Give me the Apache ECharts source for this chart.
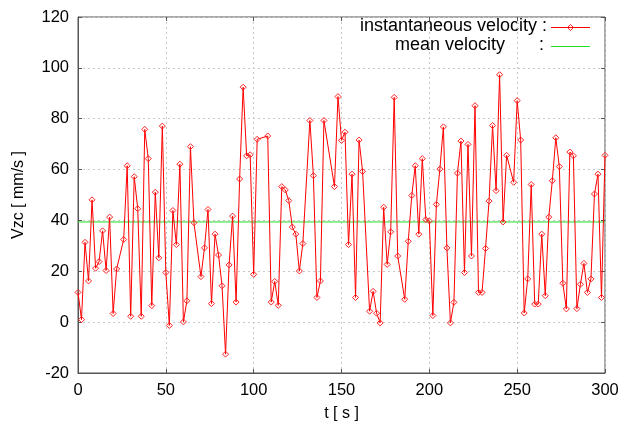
<!DOCTYPE html>
<html>
<head>
<meta charset="utf-8">
<script src="https://cdn.jsdelivr.net/npm/echarts@6/dist/echarts.min.js"></script>
<style>
html,body{margin:0;padding:0;background:#fff;}
#c{width:624px;height:427px;}
</style>
</head>
<body>
<div id="c"></div>
<script>
const times = [0,2,4,6,8,10,12,14,16,18,20,22,26,28,30,32,34,36,38,40,
  42,44,46,48,50,52,54,56,58,60,62,64,66,70,72,74,76,78,80,82,
  84,86,88,90,92,94,96,98,100,102,108,110,112,114,116,118,120,122,124,126,
  128,132,134,136,138,140,146,148,150,152,154,156,158,160,162,166,168,170,172,174,
  176,178,180,182,186,188,190,192,194,196,198,200,202,204,206,208,210,212,214,216,
  218,220,222,224,226,228,230,232,234,236,238,240,242,244,248,250,252,254,256,258,
  260,262,264,266,268,270,272,274,276,278,280,282,284,286,288,290,292,294,296,298,300];
const velocities = [11.7,1.0,31.4,16.2,48.1,21.2,23.8,35.9,20.3,41.3,3.4,20.9,32.5,61.5,2.3,57.2,44.6,2.3,75.8,64.3,
  6.5,51.1,25.3,77.1,19.5,-1.3,43.9,30.5,62.1,0.1,8.4,69.0,39.1,17.9,29.2,44.3,7.3,34.6,26.4,14.3,
  -12.6,22.5,41.7,7.9,56.3,92.4,65.4,65.8,18.8,71.9,73.2,7.9,16.0,6.6,53.3,52.0,47.8,37.4,34.6,20.1,
  30.9,79.3,57.6,9.7,16.2,79.3,53.3,88.7,71.5,74.7,30.5,58.2,9.7,71.6,59.3,4.3,12.1,3.5,-0.3,45.2,
  22.7,35.5,88.4,26.0,9.0,31.8,49.8,61.5,34.6,64.3,40.3,39.8,2.6,46.3,60.2,76.8,29.2,-0.3,7.8,58.6,
  71.2,19.5,69.9,26.0,85.1,11.7,11.7,29.0,47.6,77.3,51.7,97.3,39.4,65.6,55.0,87.1,71.6,3.6,17.0,54.1,
  7.1,7.1,34.6,10.4,41.3,55.6,72.5,61.2,15.3,5.2,66.9,65.4,5.3,14.9,23.1,11.7,17.0,50.4,58.2,9.7,65.6];
const meanVelocity = 39.4;
const meanRange = [0, 300];
const xRange = [0, 300, 50];
const yRange = [-20, 120, 20];
const seriesNames = ['instantaneous velocity', 'mean velocity'];
const xTitle = 't [ s ]';
const yTitle = 'Vzc [ mm/s ]';

const FONT = 'Liberation Sans';
const chart = echarts.init(document.getElementById('c'), null, {renderer: 'canvas'});

const gridLine = {show: true, lineStyle: {color: '#c8c8c8', type: [2, 3], width: 1}};
const tickIn = {show: true, inside: true, length: 4, lineStyle: {color: '#555'}};

chart.setOption({
  animation: false,
  backgroundColor: '#fff',
  grid: {left: 78, right: 19, top: 17, bottom: 53, show: true, borderColor: '#555', borderWidth: 1},
  xAxis: [{
    type: 'value', min: xRange[0], max: xRange[1], interval: xRange[2],
    axisLine: {show: true, onZero: false, lineStyle: {color: '#555'}},
    axisTick: tickIn,
    splitLine: gridLine,
    axisLabel: {color: '#000', fontFamily: FONT, fontSize: 16.5, margin: 9},
    name: xTitle, nameLocation: 'middle', nameGap: 33,
    nameTextStyle: {color: '#000', fontFamily: FONT, fontSize: 16}
  }, {
    type: 'value', position: 'top', min: xRange[0], max: xRange[1], interval: xRange[2],
    axisLine: {show: false, onZero: false}, axisTick: tickIn, axisLabel: {show: false}, splitLine: {show: false}
  }],
  yAxis: [{
    type: 'value', min: yRange[0], max: yRange[1], interval: yRange[2],
    axisLine: {show: true, onZero: false, lineStyle: {color: '#555'}},
    axisTick: tickIn,
    splitLine: gridLine,
    axisLabel: {color: '#000', fontFamily: FONT, fontSize: 16.5, margin: 9},
    name: yTitle, nameLocation: 'middle', nameGap: 51, nameRotate: 90,
    nameTextStyle: {color: '#000', fontFamily: FONT, fontSize: 16}
  }, {
    type: 'value', position: 'right', min: yRange[0], max: yRange[1], interval: yRange[2],
    axisLine: {show: false, onZero: false}, axisTick: tickIn, axisLabel: {show: false}, splitLine: {show: false}
  }],
  series: [{
    name: seriesNames[1],
    type: 'line',
    data: meanRange.map(t => [t, meanVelocity]),
    symbol: 'none',
    lineStyle: {color: '#22dd22', width: 1},
    z: 2
  }, {
    name: seriesNames[0],
    type: 'line',
    data: times.map((t, i) => [t, velocities[i]]),
    symbol: 'diamond',
    symbolSize: 6,
    showAllSymbol: true,
    lineStyle: {color: '#ff0000', width: 1},
    itemStyle: {color: 'rgba(255,255,255,0)', borderColor: '#ff2222', borderWidth: 1},
    z: 3
  }],
  graphic: [
    {type: 'text', right: 624 - 547, top: 17, style: {text: seriesNames[0] + ' :', font: '18px "' + FONT + '"', fill: '#000', textAlign: 'right'}},
    {type: 'text', left: 395, top: 36, style: {text: seriesNames[1], font: '18px "' + FONT + '"', fill: '#000'}},
    {type: 'text', left: 539, top: 36, style: {text: ':', font: '18px "' + FONT + '"', fill: '#000'}},
    {type: 'line', shape: {x1: 551, y1: 27.5, x2: 590, y2: 27.5}, style: {stroke: '#ff0000', lineWidth: 1}},
    {type: 'polygon', shape: {points: [[570.5, 24.5], [573.5, 27.5], [570.5, 30.5], [567.5, 27.5]]}, style: {fill: 'rgba(255,255,255,0)', stroke: '#ff2222', lineWidth: 1}},
    {type: 'line', shape: {x1: 551, y1: 46.5, x2: 590, y2: 46.5}, style: {stroke: '#22dd22', lineWidth: 1}}
  ]
});
</script>
</body>
</html>
